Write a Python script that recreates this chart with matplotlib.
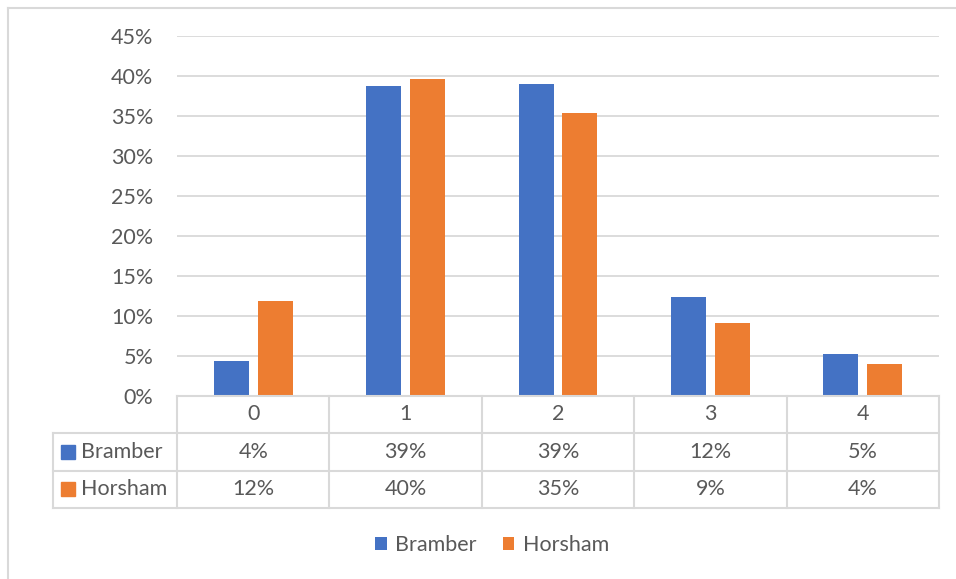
import matplotlib.pyplot as plt
import matplotlib.transforms as mtransforms
from matplotlib.lines import Line2D
from matplotlib.patches import Rectangle
import numpy as np

plt.rcParams['font.family'] = ['Lato', 'DejaVu Sans']

categories = ['0', '1', '2', '3', '4']
series_names = ['Bramber', 'Horsham']
bramber = [4.4, 38.7, 39.0, 12.4, 5.3]
horsham = [11.9, 39.6, 35.4, 9.1, 4.0]
colors = ['#4472C4', '#ED7D31']
yticks = [0, 5, 10, 15, 20, 25, 30, 35, 40, 45]

W, H = 956, 579
txt = '#595959'
grid = '#d9d9d9'
fs = 15.5

fig = plt.figure(figsize=(W / 100, H / 100), dpi=100)

def fx(px):
    return px / W

def fy(py):
    return 1 - py / H

# outer chart border (left and top visible)
fig.add_artist(Line2D([fx(7.5), fx(7.5)], [fy(7.5), 0], color=grid, lw=1.5))
fig.add_artist(Line2D([fx(7.5), 1], [fy(7.5), fy(7.5)], color=grid, lw=1.5))

ax = fig.add_axes([fx(177), fy(396), fx(939) - fx(177), (396 - 36) / H])
x = np.arange(len(categories))
w = 0.23
off = 0.144
b1 = ax.bar(x - off, bramber, w, color=colors[0], label=series_names[0], zorder=3)
b2 = ax.bar(x + off, horsham, w, color=colors[1], label=series_names[1], zorder=3)

ax.set_xlim(-0.5, len(categories) - 0.5)
ax.set_ylim(0, 45)
ax.set_yticks(yticks)
ax.set_yticklabels([f'{t}%' for t in yticks], color=txt, fontsize=fs)
ax.set_xticks([])
ax.tick_params(axis='y', length=0, pad=17)
ax.grid(axis='y', color=grid, lw=1.3, zorder=0)
for s in ax.spines.values():
    s.set_visible(False)

# data table below the axis
blend = mtransforms.blended_transform_factory(ax.transData, fig.transFigure)
rows_y = [396, 432.5, 470.5, 508]
edges = np.arange(len(categories) + 1) - 0.5
lw = 1.5
# horizontal lines
fig.add_artist(Line2D([-0.5, edges[-1]], [fy(rows_y[0])] * 2, transform=blend, color=grid, lw=lw))
for ry in rows_y[1:]:
    fig.add_artist(Line2D([fx(53), fx(939)], [fy(ry)] * 2, color=grid, lw=lw))
# vertical lines
for e in edges:
    fig.add_artist(Line2D([e, e], [fy(rows_y[0]), fy(rows_y[-1])], transform=blend, color=grid, lw=lw))
fig.add_artist(Line2D([fx(53), fx(53)], [fy(rows_y[1]), fy(rows_y[-1])], color=grid, lw=lw))

centers = [(rows_y[i] + rows_y[i + 1]) / 2 for i in range(3)]
for i, c in enumerate(categories):
    fig.text(i, fy(centers[0]), c, transform=blend, ha='center', va='center', color=txt, fontsize=fs)
for r, (name, vals) in enumerate(zip(series_names, [bramber, horsham])):
    cy = fy(centers[r + 1])
    fig.add_artist(Rectangle((fx(61), cy - 7 / H), 14 / W, 14 / H, color=colors[r]))
    fig.text(fx(81), cy, name, ha='left', va='center', color=txt, fontsize=fs)
    for i, v in enumerate(vals):
        fig.text(i, cy, f'{v:.0f}%', transform=blend, ha='center', va='center', color=txt, fontsize=fs)

fig.legend(handles=[b1, b2], loc='center', bbox_to_anchor=(fx(492), fy(545)), ncol=2,
           frameon=False, fontsize=fs, labelcolor=txt, handlelength=0.55, handleheight=0.55,
           handletextpad=0.4, columnspacing=1.2)

fig.savefig('out.png', dpi=100)
